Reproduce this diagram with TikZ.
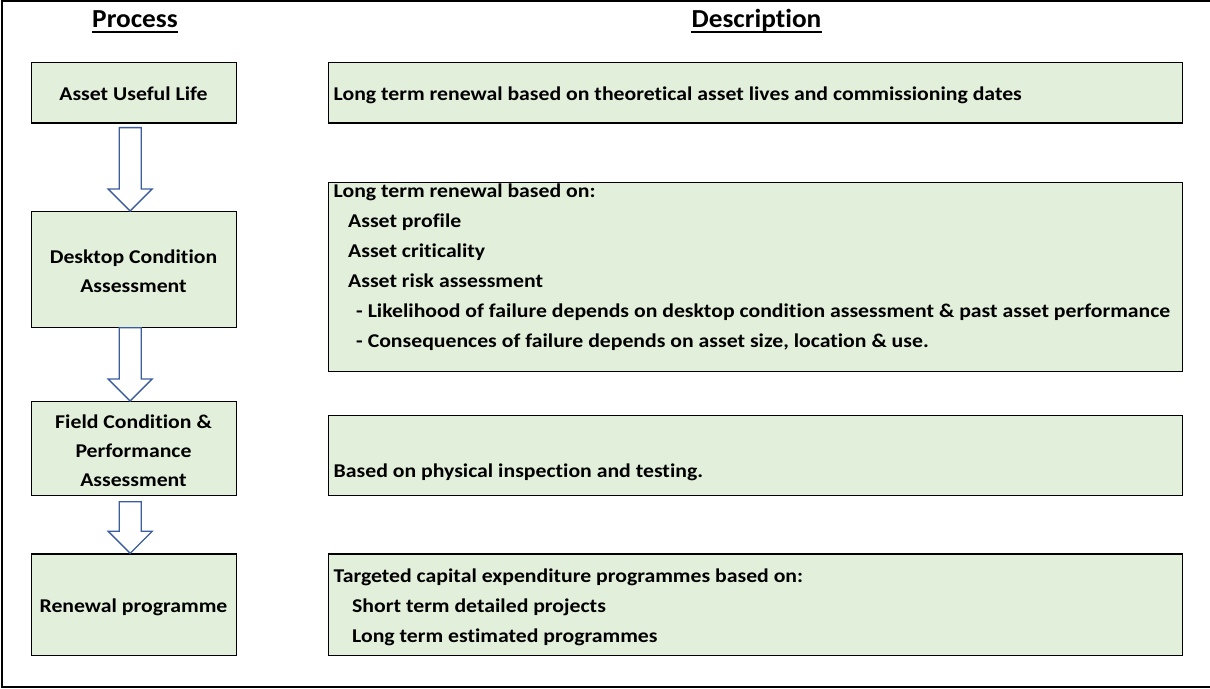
\documentclass[tikz,border=0pt]{standalone}
\usepackage{fontspec}
\setmainfont{Carlito}
\newfontfamily\bodyfont{Carlito}[FakeStretch=1.115, Ligatures=NoCommon]
\newfontfamily\headfont{Carlito}[FakeStretch=1.05, Ligatures=NoCommon]
\usetikzlibrary{calc}
\definecolor{boxgreen}{HTML}{E2EFDA}
\definecolor{arrowblue}{HTML}{3A5DA0}

% hollow block arrow from the bottom of node #1 to the top of node #2,
% its shaft starting #3 below node #1
\newcommand{\blockarrow}[3]{%
  \draw[arrowstyle] let \p1=(#1.south), \p2=(#2.north) in
    (\x2-4pt,\y2) -- (\x2-26pt,\y2+22pt) -- (\x2-15pt,\y2+22pt)
    -- (\x2-15pt,\y1-#3) -- (\x2+7pt,\y1-#3) -- (\x2+7pt,\y2+22pt)
    -- (\x2+18pt,\y2+22pt) -- cycle;}

\begin{document}
\begin{tikzpicture}[x=1pt,y=-1pt,
  cell/.style={draw=black, line width=1.3pt, fill=boxgreen, inner sep=0pt,
    anchor=north west},
  txt/.style={font=\bodyfont\fontsize{19.5}{30}\selectfont\bfseries, inner sep=0pt},
  ctxt/.style={txt, anchor=base},
  ltxt/.style={txt, anchor=base west},
  head/.style={font=\headfont\fontsize{26}{30}\selectfont\bfseries, inner sep=0pt,
    anchor=base},
  arrowstyle/.style={draw=arrowblue, line width=1.3pt, fill=white,
    line join=miter}]

\useasboundingbox (0,0) rectangle (1210,688);

% outer frame
\draw[line width=1.3pt] (1215,1) -- (2,1) -- (2,687) -- (1215,687);

% column headings
\node[head] (hproc) at (135,27.3) {Process};
\node[head] (hdesc) at (756.5,27.3) {Description};
\draw[line width=1.8pt] ([yshift=-4.7pt]hproc.base west) -- ([yshift=-4.7pt]hproc.base east);
\draw[line width=1.8pt] ([yshift=-4.7pt]hdesc.base west) -- ([yshift=-4.7pt]hdesc.base east);

% process cells
\node[cell, minimum width=205pt, minimum height=60.3pt] (p1) at (31,62) {};
\node[cell, minimum width=205pt, minimum height=116pt] (p2) at (31,211) {};
\node[cell, minimum width=205pt, minimum height=93.5pt] (p3) at (31,401) {};
\node[cell, minimum width=205pt, minimum height=101.7pt] (p4) at (31,553.3) {};

% description cells
\node[cell, minimum width=853.5pt, minimum height=60.3pt] (d1) at (328,62) {};
\node[cell, minimum width=853.5pt, minimum height=188.7pt] (d2) at (328,182) {};
\node[cell, minimum width=853.5pt, minimum height=80pt] (d3) at (328,415) {};
\node[cell, minimum width=853.5pt, minimum height=101.7pt] (d4) at (328,553.3) {};

% process labels
\node[ctxt] (p1a) at (133.5,100) {Asset Useful Life};
\node[ctxt] (p2a) at (133.5,263) {Desktop Condition};
\node[ctxt] (p2b) at (133.5,292) {Assessment};
\node[ctxt] (p3a) at (133.5,428.3) {Field Condition \&};
\node[ctxt] (p3b) at (133.5,457.7) {Performance};
\node[ctxt] (p3c) at (133.5,486.7) {Assessment};
\node[ctxt] (p4a) at (133.5,612.3) {Renewal programme};

% description texts
\node[ltxt] (d1a) at (333.5,100) {Long term renewal based on theoretical asset lives and commissioning dates};
\node[ltxt] (d2a) at (333.5,197) {Long term renewal based on:};
\node[ltxt] (d2b) at (348,227) {Asset profile};
\node[ltxt] (d2c) at (348,257) {Asset criticality};
\node[ltxt] (d2d) at (348,287) {Asset risk assessment};
\node[ltxt] (d2e) at (356,317) {- Likelihood of failure depends on desktop condition assessment \& past asset performance};
\node[ltxt] (d2f) at (356,347) {- Consequences of failure depends on asset size, location \& use.};
\node[ltxt] (d3a) at (333.5,477) {Based on physical inspection and testing.};
\node[ltxt] (d4a) at (333.5,582) {Targeted capital expenditure programmes based on:};
\node[ltxt] (d4b) at (352,612) {Short term detailed projects};
\node[ltxt] (d4c) at (352,642) {Long term estimated programmes};

% flow arrows between the process cells
\blockarrow{p1}{p2}{4pt}
\blockarrow{p2}{p3}{-0.5pt}
\blockarrow{p3}{p4}{6pt}

\end{tikzpicture}
\end{document}
